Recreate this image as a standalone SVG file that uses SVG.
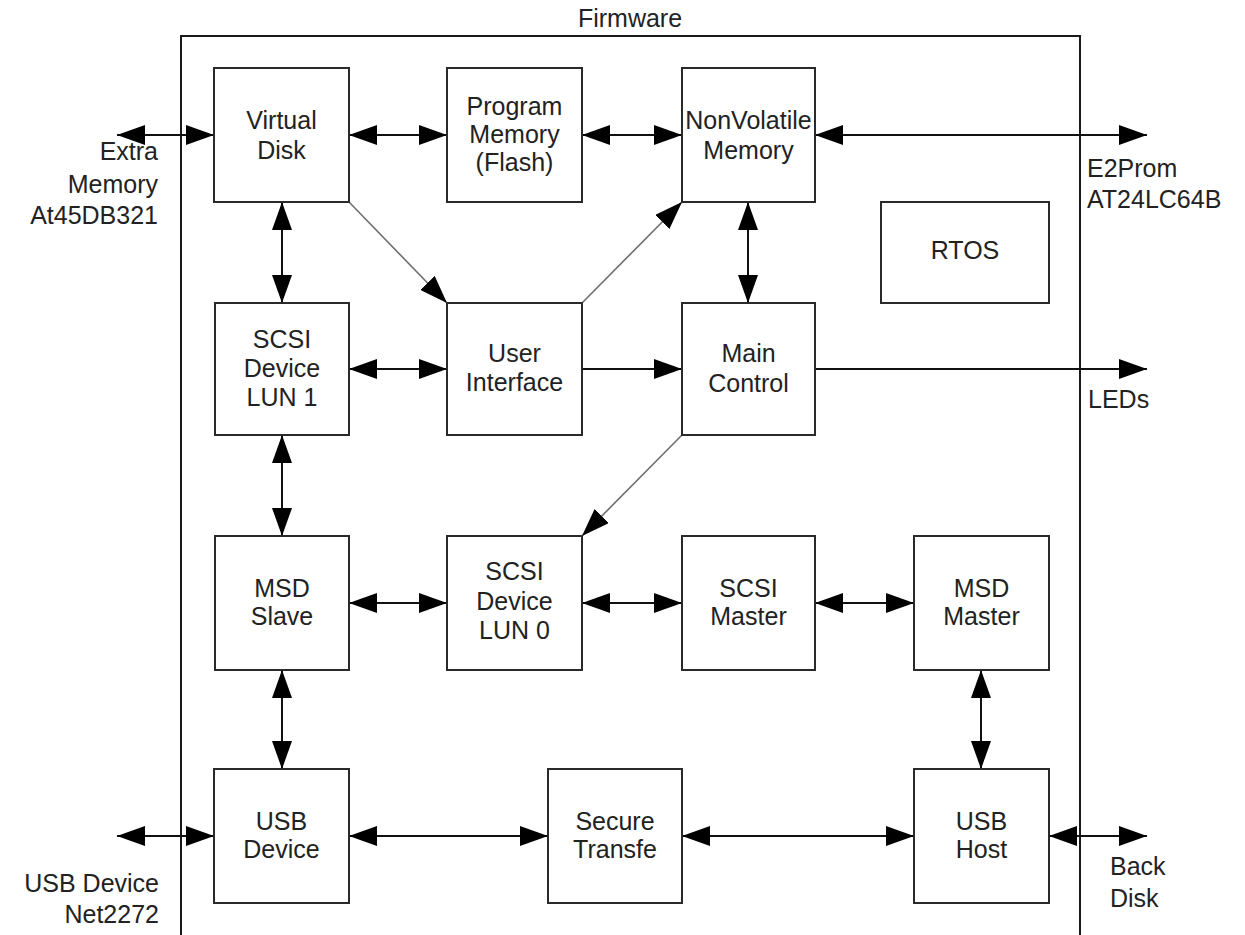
<svg xmlns="http://www.w3.org/2000/svg" width="1245" height="935" viewBox="0 0 1245 935">
<style>
.box{fill:#fff;stroke:#2a2a2a;stroke-width:2}
.frame{fill:none;stroke:#1a1a1a;stroke-width:2}
text{font-family:"Liberation Sans",Arial,sans-serif;font-size:25px;fill:#222}
.c{text-anchor:middle}
.r{text-anchor:end}
.l{text-anchor:start}
.ln{fill:none;stroke:#111;stroke-width:2}
.dg{fill:none;stroke:#6e6e6e;stroke-width:1.6}
</style>
<defs>
<marker id="ah" markerUnits="userSpaceOnUse" markerWidth="28" markerHeight="20" refX="28" refY="10" orient="auto-start-reverse" viewBox="0 0 28 20">
<path d="M0,0 L28,10 L0,20 Z" fill="#000"/>
</marker>
</defs>
<rect width="1245" height="935" fill="#fff"/>
<g id="firmware">
<path class="frame" d="M181,940 V36 H1080 V940"/>
<text class="c" x="630" y="27">Firmware</text>
</g>
<g id="connectors">
<line class="ln" x1="117" y1="135" x2="214" y2="135" marker-start="url(#ah)" marker-end="url(#ah)"/>
<line class="ln" x1="349" y1="135" x2="447" y2="135" marker-start="url(#ah)" marker-end="url(#ah)"/>
<line class="ln" x1="582" y1="135" x2="682" y2="135" marker-start="url(#ah)" marker-end="url(#ah)"/>
<line class="ln" x1="815" y1="135" x2="1147" y2="135" marker-start="url(#ah)" marker-end="url(#ah)"/>
<line class="ln" x1="282" y1="202" x2="282" y2="303" marker-start="url(#ah)" marker-end="url(#ah)"/>
<line class="ln" x1="748" y1="202" x2="748" y2="303" marker-start="url(#ah)" marker-end="url(#ah)"/>
<line class="dg" x1="349" y1="202" x2="447" y2="303" marker-end="url(#ah)"/>
<line class="dg" x1="582" y1="303" x2="682" y2="202" marker-end="url(#ah)"/>
<line class="ln" x1="349" y1="369" x2="447" y2="369" marker-start="url(#ah)" marker-end="url(#ah)"/>
<line class="ln" x1="582" y1="369" x2="682" y2="369" marker-end="url(#ah)"/>
<line class="ln" x1="815" y1="369" x2="1147" y2="369" marker-end="url(#ah)"/>
<line class="ln" x1="282" y1="435" x2="282" y2="536" marker-start="url(#ah)" marker-end="url(#ah)"/>
<line class="dg" x1="682" y1="435" x2="582" y2="536" marker-end="url(#ah)"/>
<line class="ln" x1="349" y1="603" x2="447" y2="603" marker-start="url(#ah)" marker-end="url(#ah)"/>
<line class="ln" x1="582" y1="603" x2="682" y2="603" marker-start="url(#ah)" marker-end="url(#ah)"/>
<line class="ln" x1="815" y1="603" x2="914" y2="603" marker-start="url(#ah)" marker-end="url(#ah)"/>
<line class="ln" x1="282" y1="670" x2="282" y2="769" marker-start="url(#ah)" marker-end="url(#ah)"/>
<line class="ln" x1="981" y1="670" x2="981" y2="769" marker-start="url(#ah)" marker-end="url(#ah)"/>
<line class="ln" x1="117" y1="836" x2="214" y2="836" marker-start="url(#ah)" marker-end="url(#ah)"/>
<line class="ln" x1="349" y1="836" x2="548" y2="836" marker-start="url(#ah)" marker-end="url(#ah)"/>
<line class="ln" x1="682" y1="836" x2="914" y2="836" marker-start="url(#ah)" marker-end="url(#ah)"/>
<line class="ln" x1="1049" y1="836" x2="1147" y2="836" marker-start="url(#ah)" marker-end="url(#ah)"/>
</g>
<g id="virtual-disk"><rect class="box" x="214" y="68" width="135" height="134"/><text class="c" x="281.5" y="129">Virtual</text><text class="c" x="281.5" y="159">Disk</text></g>
<g id="program-memory"><rect class="box" x="447" y="68" width="135" height="134"/><text class="c" x="514.5" y="115">Program</text><text class="c" x="514.5" y="143">Memory</text><text class="c" x="514.5" y="171">(Flash)</text></g>
<g id="nonvolatile-memory"><rect class="box" x="682" y="68" width="133" height="134"/><text class="c" x="748.5" y="129">NonVolatile</text><text class="c" x="748.5" y="159">Memory</text></g>
<g id="rtos"><rect class="box" x="881" y="202" width="168" height="101"/><text class="c" x="965" y="259">RTOS</text></g>
<g id="scsi-lun1"><rect class="box" x="215" y="303" width="134" height="132"/><text class="c" x="282" y="348">SCSI</text><text class="c" x="282" y="377">Device</text><text class="c" x="282" y="406">LUN 1</text></g>
<g id="user-interface"><rect class="box" x="447" y="303" width="135" height="132"/><text class="c" x="514.5" y="362">User</text><text class="c" x="514.5" y="391">Interface</text></g>
<g id="main-control"><rect class="box" x="682" y="303" width="133" height="132"/><text class="c" x="748.5" y="362">Main</text><text class="c" x="748.5" y="392">Control</text></g>
<g id="msd-slave"><rect class="box" x="215" y="536" width="134" height="134"/><text class="c" x="282" y="597">MSD</text><text class="c" x="282" y="625">Slave</text></g>
<g id="scsi-lun0"><rect class="box" x="447" y="536" width="135" height="134"/><text class="c" x="514.5" y="580">SCSI</text><text class="c" x="514.5" y="610">Device</text><text class="c" x="514.5" y="639">LUN 0</text></g>
<g id="scsi-master"><rect class="box" x="682" y="536" width="133" height="134"/><text class="c" x="748.5" y="597">SCSI</text><text class="c" x="748.5" y="625">Master</text></g>
<g id="msd-master"><rect class="box" x="914" y="536" width="135" height="134"/><text class="c" x="981.5" y="597">MSD</text><text class="c" x="981.5" y="625">Master</text></g>
<g id="usb-device"><rect class="box" x="214" y="769" width="135" height="134"/><text class="c" x="281.5" y="830">USB</text><text class="c" x="281.5" y="858">Device</text></g>
<g id="secure-transfe"><rect class="box" x="548" y="769" width="134" height="134"/><text class="c" x="615" y="830">Secure</text><text class="c" x="615" y="858">Transfe</text></g>
<g id="usb-host"><rect class="box" x="914" y="769" width="135" height="134"/><text class="c" x="981.5" y="830">USB</text><text class="c" x="981.5" y="858">Host</text></g>
<g id="extra-memory"><text class="r" x="158" y="160">Extra</text><text class="r" x="158" y="193">Memory</text><text class="r" x="158" y="224">At45DB321</text></g>
<g id="e2prom"><text class="l" x="1087" y="177">E2Prom</text><text class="l" x="1087" y="208">AT24LC64B</text></g>
<g id="leds"><text class="l" x="1088" y="408">LEDs</text></g>
<g id="usb-device-ext"><text class="r" x="159" y="892">USB Device</text><text class="r" x="159" y="923">Net2272</text></g>
<g id="back-disk"><text class="l" x="1110" y="875">Back</text><text class="l" x="1110" y="907">Disk</text></g>
</svg>
